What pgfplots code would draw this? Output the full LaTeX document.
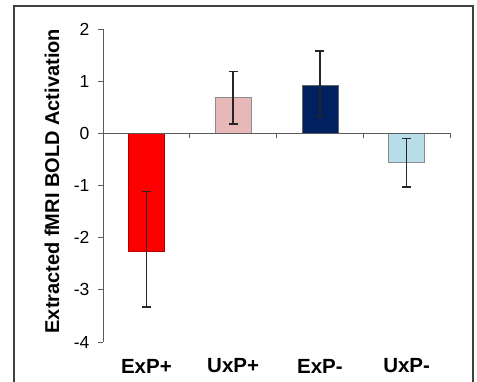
\documentclass[border=0pt]{standalone}
\usepackage{fontspec}
\setmainfont{Liberation Sans}
\usepackage{pgfplots}
\pgfplotsset{compat=1.18}
\definecolor{cRed}{RGB}{255,0,0}
\definecolor{cPink}{RGB}{230,185,184}
\definecolor{cNavy}{RGB}{0,32,96}
\definecolor{cLBlue}{RGB}{183,222,232}
\definecolor{axgray}{RGB}{90,90,90}
\begin{document}
\begin{tikzpicture}[x=1pt,y=1pt]
\useasboundingbox (0,0) rectangle (477,382);
\draw[line width=1.6pt, black!75] (14,-10) -- (14,376) -- (473,376) -- (473,-10);
\begin{axis}[
  at={(103pt,40pt)}, anchor=south west,
  scale only axis, width=347pt, height=313pt,
  xmin=-0.5, xmax=3.5, ymin=-4, ymax=2,
  axis lines*=left,
  x axis line style={draw=none},
  y axis line style={axgray, line width=0.9pt},
  xtick={0,1,2,3},
  xticklabels={ExP+,UxP+,ExP-,UxP-},
  x tick style={draw=none},
  xticklabel style={font=\bfseries\fontsize{20.5}{20.5}\selectfont, anchor=center, yshift=-19pt},
  ytick={-4,-3,-2,-1,0,1,2},
  y tick style={axgray, line width=0.9pt},
  tick align=outside,
  major tick length=5pt,
  yticklabel style={font=\fontsize{17.5}{17.5}\selectfont, xshift=-5pt},
  /pgf/number format/assume math mode=true,
  every axis y label/.style={at={(axis description cs:-0.147,0.514)}, rotate=90, anchor=center},
  ylabel={Extracted fMRI BOLD Activation},
  ylabel style={font=\bfseries\fontsize{20}{20}\selectfont},
  clip=false,
]
\pgfplotsset{
  errstyle/.style={
    error bars/.cd, y dir=both, y explicit,
    error bar style={line width=1.3pt, black!85},
    error mark options={rotate=90, mark size=4.5pt, line width=1.3pt, black!85}
  }
}
\addplot[ybar, bar width=0.415, bar shift=0pt, fill=cRed, draw=red!70!black, line width=0.5pt, errstyle]
  table[x=x, y=y, y error plus=ep, y error minus=em] {
x y ep em
0 -2.26 1.14 1.07
};
\addplot[ybar, bar width=0.415, bar shift=0pt, fill=cPink, draw=black!45, line width=0.5pt, errstyle]
  table[x=x, y=y, y error plus=ep, y error minus=em] {
x y ep em
1 0.69 0.50 0.51
};
\addplot[ybar, bar width=0.415, bar shift=0pt, fill=cNavy, draw=black!60, line width=0.5pt, errstyle]
  table[x=x, y=y, y error plus=ep, y error minus=em] {
x y ep em
2 0.93 0.65 0.61
};
\addplot[ybar, bar width=0.415, bar shift=0pt, fill=cLBlue, draw=black!45, line width=0.5pt, errstyle]
  table[x=x, y=y, y error plus=ep, y error minus=em] {
x y ep em
3 -0.56 0.46 0.47
};
\end{axis}
\begin{axis}[
  at={(103pt,40pt)}, anchor=south west,
  scale only axis, width=347pt, height=313pt,
  xmin=-0.5, xmax=3.5, ymin=-4, ymax=2,
  axis x line=middle, axis y line=none,
  x axis line style={axgray, line width=0.9pt, -},
  xtick={0.5,1.5,2.5,3.5},
  xticklabels={},
  x tick style={axgray, line width=0.9pt, yshift=-2.5pt},
  major tick length=5pt,
  ytick=\empty,
]
\end{axis}
\end{tikzpicture}
\end{document}
